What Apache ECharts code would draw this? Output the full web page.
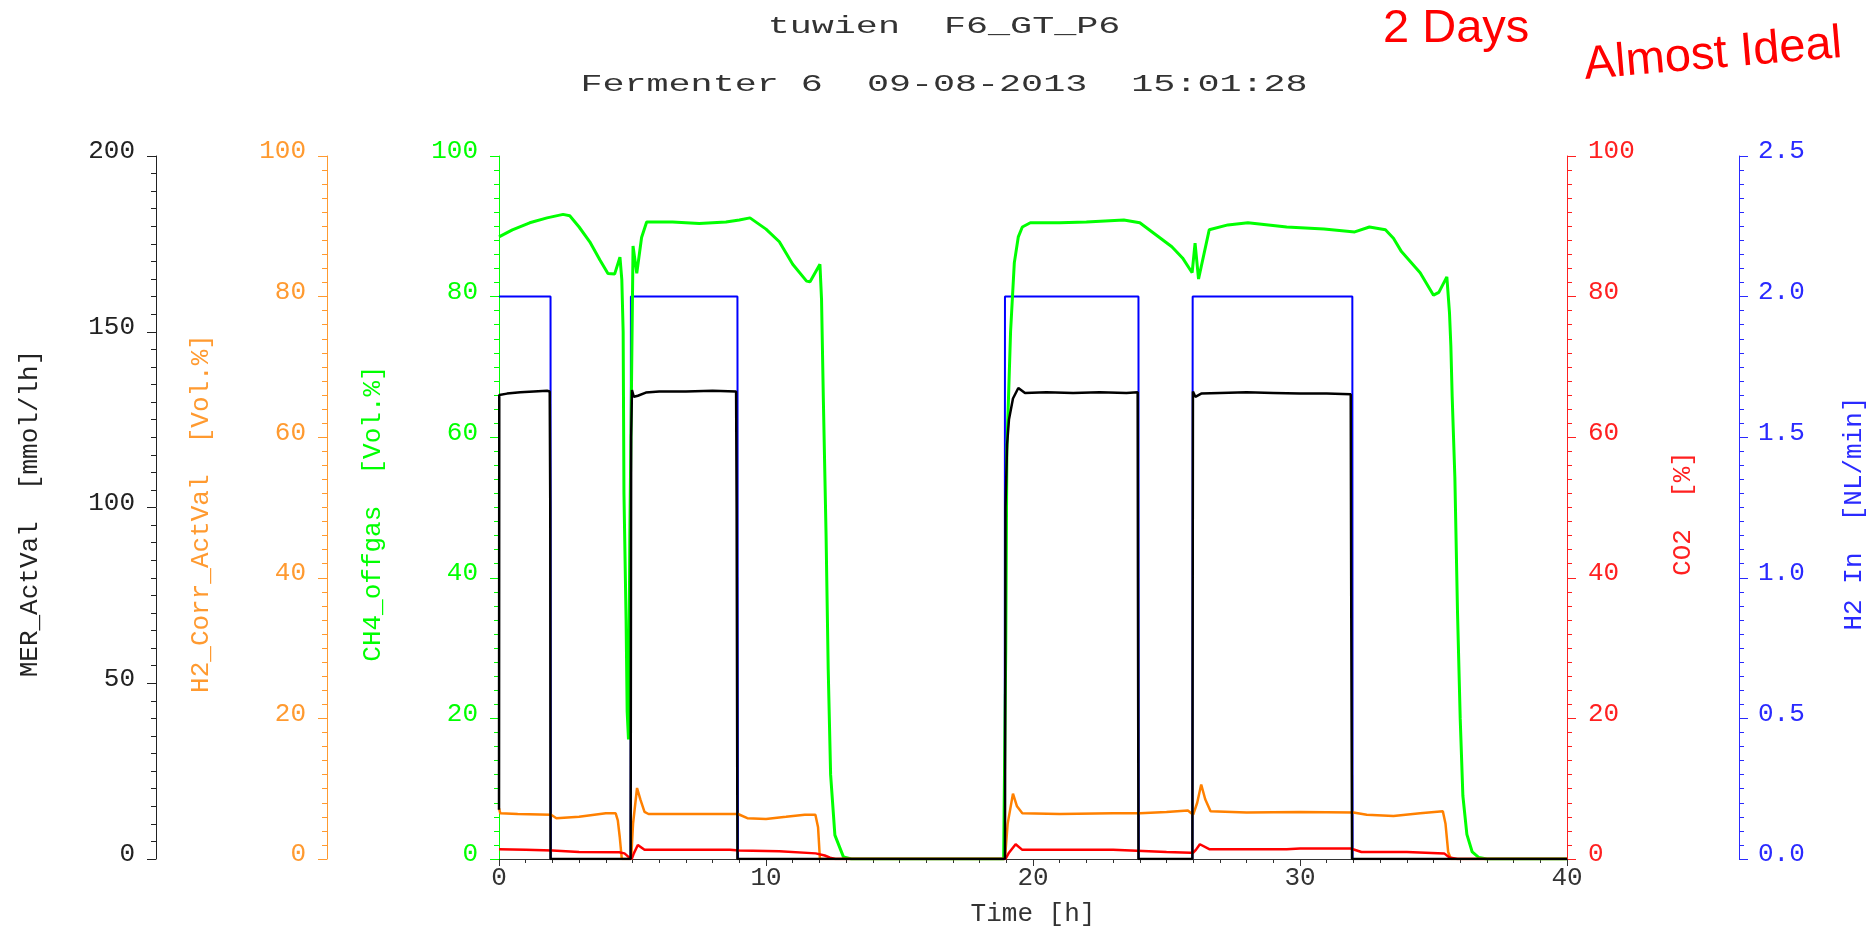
<!DOCTYPE html>
<html><head><meta charset="utf-8">
<script src="https://cdn.jsdelivr.net/npm/echarts@6/dist/echarts.min.js"></script>
<style>html,body{margin:0;padding:0;background:#fff}#c{width:1868px;height:926px}</style>
</head><body><div id="c"></div><script>
// ---- data (time in hours) ----
const xTicks = [0, 10, 20, 30, 40];
const merActVal = [[0,14],[0.01,132],[0.3,132.4],[0.8,132.8],[1.3,133],[1.8,133.2],[1.9,133],[1.92,100],[1.93,0],
  [4.93,0],[4.95,120],[4.98,133.4],[5.05,131.5],[5.2,131.8],[5.5,132.7],[6,133],[7,133],[8,133.2],[8.88,133],[8.9,100],[8.93,0],
  [18.95,0],[18.97,100],[19.03,118],[19.1,125],[19.25,131],[19.45,134],[19.7,132.6],[20.5,132.8],[21.5,132.6],[22.5,132.8],[23.5,132.6],[23.92,132.8],[23.93,80],[23.95,0],
  [25.97,0],[25.99,133],[26.08,131.5],[26.3,132.4],[27,132.6],[28,132.8],[29,132.6],[30,132.4],[31,132.4],[31.9,132.2],[31.92,70],[31.95,0],[40,0]];
const h2CorrActVal = [[0,7.2],[0.05,6.5],[0.7,6.4],[1.95,6.3],[2.15,5.8],[3.0,6.0],[4.0,6.5],[4.37,6.5],[4.45,5.5],[4.52,3.2],[4.6,0],[4.95,0],[5.02,5],[5.17,10.1],[5.3,8.4],[5.45,6.7],[5.6,6.4],[7,6.4],[8.95,6.4],[9.3,5.8],[10.0,5.7],[10.75,6.0],[11.45,6.3],[11.85,6.3],[11.95,4.5],[12.02,0],
  [18.95,0],[19.05,5],[19.25,9.3],[19.4,7.5],[19.6,6.5],[21,6.4],[23,6.5],[24,6.5],[25,6.7],[25.8,6.9],[26.0,6.3],[26.15,8],[26.3,10.6],[26.45,8.5],[26.65,6.8],[28,6.6],[30,6.7],[32,6.6],[32.5,6.3],[33.5,6.1],[34.5,6.5],[35.35,6.8],[35.45,5],[35.55,1],[35.65,0],[40,0]];
const ch4Offgas = [[0,88.5],[0.5,89.5],[1.15,90.5],[1.8,91.2],[2.4,91.7],[2.65,91.5],[3.0,89.9],[3.4,87.8],[3.78,85.2],[4.08,83.3],[4.33,83.2],[4.53,85.6],[4.6,82.4],[4.65,75],[4.68,52],[4.76,34],[4.8,21],[4.85,17],[4.9,46],[5.02,87.2],[5.16,83.3],[5.34,88.4],[5.53,90.6],[6.5,90.6],[7.5,90.4],[8.5,90.6],[9.0,90.9],[9.4,91.2],[10.0,89.6],[10.5,87.8],[11.0,84.6],[11.52,82.2],[11.65,82.1],[12.02,84.6],[12.08,79.6],[12.15,65],[12.25,46],[12.33,27],[12.42,12],[12.58,3.4],[12.9,0.3],[13.2,0],
  [18.9,0],[18.98,30],[19.02,58],[19.16,75],[19.3,84.8],[19.45,88.5],[19.6,89.9],[19.9,90.5],[21,90.5],[22,90.6],[23.4,90.9],[24.0,90.5],[24.6,88.8],[25.2,87.1],[25.6,85.5],[25.96,83.4],[26.07,87.6],[26.2,82.5],[26.6,89.5],[27.3,90.2],[28.05,90.5],[29.5,89.9],[30.9,89.6],[32.05,89.2],[32.6,89.9],[33.2,89.5],[33.5,88.3],[33.8,86.4],[34.5,83.4],[35.0,80.2],[35.2,80.6],[35.5,82.8],[35.6,77.6],[35.65,73],[35.7,65.7],[35.8,54.3],[35.9,35],[36.0,20],[36.1,9],[36.25,3.5],[36.45,1],[36.7,0.2],[37,0],[40,0]];
const co2 = [[0,1.4],[1,1.3],[2,1.2],[3,1.0],[4.5,0.95],[4.7,0.8],[4.85,0.3],[4.97,0],[5.05,0.8],[5.2,2.0],[5.45,1.3],[7,1.3],[8.65,1.3],[9,1.2],[10.5,1.1],[11.86,0.8],[12.2,0.5],[12.4,0.2],[12.6,0],
  [18.97,0],[19.1,0.9],[19.35,2.1],[19.6,1.3],[21,1.3],[23,1.3],[25,1.0],[25.9,0.9],[26.0,0.9],[26.1,1.3],[26.25,2.1],[26.6,1.4],[28,1.4],[29.5,1.4],[30,1.5],[31.9,1.5],[32.3,1.0],[34,1.0],[35.4,0.8],[35.6,0.2],[35.9,0],[40,0]];
const h2In = [[0,2.0],[1.93,2.0],[1.94,0],[4.93,0],[4.94,2.0],[8.93,2.0],[8.94,1.0],[8.95,0],[18.94,0],[18.95,2.0],[23.95,2.0],[23.96,0],[25.97,0],[25.98,2.0],[31.96,2.0],[31.97,0],[40,0]];

const MONO = "'Liberation Mono', 'DejaVu Sans Mono', monospace";

function yAx(o) {
  return {
    type: 'value', min: o.min, max: o.max, interval: o.interval,
    position: o.position, offset: o.offset,
    name: o.name, nameLocation: 'middle', nameRotate: 90, nameGap: o.nameGap,
    nameTextStyle: {color: o.color, fontFamily: MONO, fontSize: 26, padding: [0, 12, 0, 0]},
    axisLine: {show: true, onZero: false, lineStyle: {color: o.color, width: 1}},
    axisTick: {show: true, inside: false, length: 9, lineStyle: {color: o.color, width: 1}},
    minorTick: {show: true, splitNumber: 10, length: 5, lineStyle: {color: o.color, width: 1}},
    axisLabel: {show: true, color: o.color, fontFamily: MONO, fontSize: 26, margin: o.margin,
      verticalAlign: 'bottom', lineHeight: 9, formatter: o.formatter},
    splitLine: {show: false}, minorSplitLine: {show: false}
  };
}

const chart = echarts.init(document.getElementById('c'), null, {renderer: 'canvas'});
chart.setOption({
  animation: false,
  backgroundColor: '#ffffff',
  grid: {left: 499, right: 301, top: 156, bottom: 67, containLabel: false, outerBoundsMode: 'none'},
  xAxis: {
    type: 'value', min: 0, max: 40, interval: 10,
    name: 'Time [h]', nameLocation: 'middle', nameGap: 42,
    nameTextStyle: {color: '#333', fontFamily: MONO, fontSize: 26},
    axisLine: {show: true, onZero: false, lineStyle: {color: '#333', width: 1}},
    axisTick: {show: true, length: 7, lineStyle: {color: '#333'}},
    minorTick: {show: true, splitNumber: 10, length: 4, lineStyle: {color: '#333'}},
    axisLabel: {color: '#333', fontFamily: MONO, fontSize: 26, margin: 11, lineHeight: 16,
      formatter: v => xTicks.indexOf(v) >= 0 ? String(v) : ''},
    splitLine: {show: false}
  },
  yAxis: [
    yAx({min: 0, max: 100, interval: 20, position: 'left', offset: 0, color: '#00ff00', name: 'CH4_offgas  [Vol.%]', nameGap: 113, margin: 21}),
    yAx({min: 0, max: 100, interval: 20, position: 'left', offset: 172, color: '#ff9a30', name: 'H2_Corr_ActVal  [Vol.%]', nameGap: 113, margin: 21}),
    yAx({min: 0, max: 200, interval: 50, position: 'left', offset: 343, color: '#222222', name: 'MER_ActVal  [mmol/lh]', nameGap: 113, margin: 21}),
    yAx({min: 0, max: 100, interval: 20, position: 'right', offset: 0, color: '#ff2020', name: 'CO2  [%]', nameGap: 103, margin: 21}),
    yAx({min: 0, max: 2.5, interval: 0.5, position: 'right', offset: 172, color: '#2a2aff', name: 'H2 In  [NL/min]', nameGap: 102, margin: 19,
      formatter: v => v.toFixed(1)})
  ],
  series: [
    {name: 'H2 In', type: 'line', yAxisIndex: 4, data: h2In, showSymbol: false, lineStyle: {color: '#0000ff', width: 2}, itemStyle: {color: '#0000ff'}},
    {name: 'CH4_offgas', type: 'line', yAxisIndex: 0, data: ch4Offgas, showSymbol: false, lineStyle: {color: '#00ff00', width: 3}, itemStyle: {color: '#00ff00'}},
    {name: 'H2_Corr_ActVal', type: 'line', yAxisIndex: 1, data: h2CorrActVal, showSymbol: false, lineStyle: {color: '#ff8000', width: 2.5}, itemStyle: {color: '#ff8000'}},
    {name: 'CO2', type: 'line', yAxisIndex: 3, data: co2, showSymbol: false, lineStyle: {color: '#ff0000', width: 2.5}, itemStyle: {color: '#ff0000'}},
    {name: 'MER_ActVal', type: 'line', yAxisIndex: 2, data: merActVal, showSymbol: false, lineStyle: {color: '#000000', width: 2.5}, itemStyle: {color: '#000000'}}
  ],
  graphic: [
    {type: 'text', x: 944, y: 27, scaleX: 1.53, style: {text: 'tuwien  F6_GT_P6', fill: '#333', font: "24px 'Liberation Mono', monospace", align: 'center', verticalAlign: 'middle'}},
    {type: 'text', x: 944, y: 85, scaleX: 1.53, style: {text: 'Fermenter 6  09-08-2013  15:01:28', fill: '#333', font: "24px 'Liberation Mono', monospace", align: 'center', verticalAlign: 'middle'}},
    {type: 'text', x: 1383, y: 29, style: {text: '2 Days', fill: '#ff0000', font: "47px 'Liberation Sans', Arial, sans-serif", align: 'left', verticalAlign: 'middle'}},
    {type: 'text', x: 1713, y: 55, rotation: 0.085, style: {text: 'Almost Ideal', fill: '#ff0000', font: "47px 'Liberation Sans', Arial, sans-serif", align: 'center', verticalAlign: 'middle'}}
  ]
});
</script></body></html>
